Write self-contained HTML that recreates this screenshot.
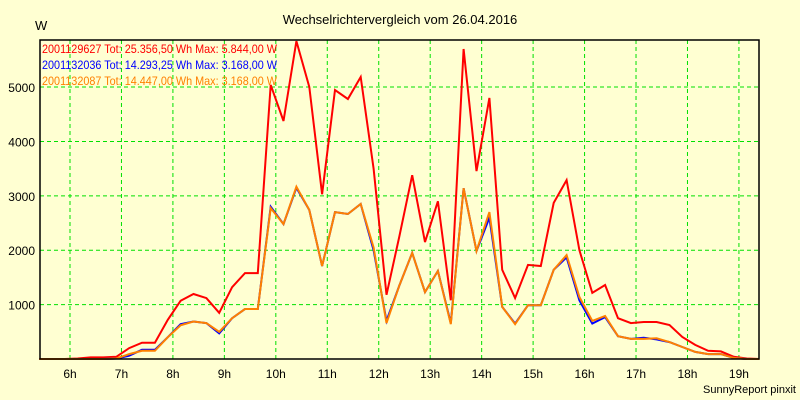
<!DOCTYPE html>
<html><head><meta charset="utf-8"><style>
html,body{margin:0;padding:0;background:#ffffd2;}
svg{display:block;font-family:"Liberation Sans",sans-serif;}
</style></head><body>
<svg id="chart" width="800" height="400" viewBox="0 0 800 400" xmlns="http://www.w3.org/2000/svg">
<rect x="0" y="0" width="800" height="400" fill="#ffffd2"/>
<text x="400" y="24" font-size="13" text-anchor="middle" fill="#000">Wechselrichtervergleich vom 26.04.2016</text>
<text x="35" y="30" font-size="13" fill="#000">W</text>
<g id="grid"></g>
<g id="series"></g>
<g id="axes"></g>
<g font-size="12">
<text x="42" y="53" fill="#ff0000" textLength="235" lengthAdjust="spacingAndGlyphs">2001129627 Tot: 25.356,50 Wh Max: 5.844,00 W</text>
<text x="42" y="69" fill="#0000ff" textLength="235" lengthAdjust="spacingAndGlyphs">2001132036 Tot: 14.293,25 Wh Max: 3.168,00 W</text>
<text x="42" y="85" fill="#ff8000" textLength="235" lengthAdjust="spacingAndGlyphs">2001132087 Tot: 14.447,00 Wh Max: 3.168,00 W</text>
</g>
<text x="796" y="393" font-size="11" text-anchor="end" fill="#000">SunnyReport pinxit</text>
</svg>
<script>
const red = [0,0,0,10,30,30,40,200,300,300,720,1070,1195,1120,850,1320,1580,1580,5040,4375,5844,5000,3030,4945,4780,5185,3500,1180,2250,3380,2150,2900,1080,5700,3455,4800,1640,1120,1730,1710,2870,3290,2000,1215,1360,750,660,680,680,625,405,260,150,140,40,10,0];
const blue = [0,0,0,0,0,0,10,60,170,170,400,640,690,660,470,750,920,920,2800,2480,3150,2740,1710,2700,2665,2850,2000,700,1350,1950,1230,1620,660,3140,1985,2600,960,650,990,990,1640,1870,1080,650,770,420,370,390,360,310,220,130,90,90,20,0,0];
const orange = [0,0,0,0,0,0,10,90,150,150,400,620,690,660,500,750,920,920,2775,2480,3168,2740,1710,2700,2665,2850,2050,660,1350,1950,1230,1620,640,3140,1985,2700,960,640,990,990,1640,1910,1140,700,790,420,370,370,380,310,220,130,90,90,20,0,0];
const startHour = 5.4;
const stepHours = 0.25;
const yTicks = [1000,2000,3000,4000,5000];
const xTicks = [6,7,8,9,10,11,12,13,14,15,16,17,18,19];

const L=40,R=759,T=40,B=359;
const xMin=5.417,xMax=19.39,yMax=5865;
const NS='http://www.w3.org/2000/svg';
function xs(h){return L+(h-xMin)/(xMax-xMin)*(R-L);}
function ys(v){return B-v/yMax*(B-T);}
function mk(tag,attrs,parent){const e=document.createElementNS(NS,tag);for(const k in attrs)e.setAttribute(k,attrs[k]);parent.appendChild(e);return e;}
const grid=document.getElementById('grid'),axes=document.getElementById('axes'),ser=document.getElementById('series');
yTicks.forEach(v=>{
  const l=mk('line',{x1:L,x2:R,y1:ys(v),y2:ys(v),stroke:'#00e000','stroke-width':1,'stroke-dasharray':'4,3'},grid);
  
  
  const t=mk('text',{x:35,y:ys(v)+5,'font-size':12,'text-anchor':'end',fill:'#000'},axes);
  
  
  t.textContent=v;
});
xTicks.forEach(h=>{
  const l=mk('line',{x1:xs(h),x2:xs(h),y1:T,y2:B,stroke:'#00e000','stroke-width':1,'stroke-dasharray':'4,3'},grid);
  
  
  const t=mk('text',{x:xs(h),y:378,'font-size':12,'text-anchor':'middle',fill:'#000'},axes);
  
  
  t.textContent=h+'h';
});
const frame=mk('path',{d:`M${L},${T} H${R} V${B} H${L} Z`,fill:'none',stroke:'#000','stroke-width':1.5},axes);


function line(data,color,w,name){
  const pts=data.map((v,i)=>xs(startHour+i*stepHours).toFixed(1)+','+ys(v).toFixed(1)).join(' ');
  const p=mk('polyline',{points:pts,fill:'none',stroke:color,'stroke-width':w,'stroke-linejoin':'miter'},ser);
  
  
}
line(red,'#ff0000',2,'series-2001129627');
line(blue,'#0000ff',2,'series-2001132036');
line(orange,'#ff8000',2,'series-2001132087');
</script>
</body></html>
